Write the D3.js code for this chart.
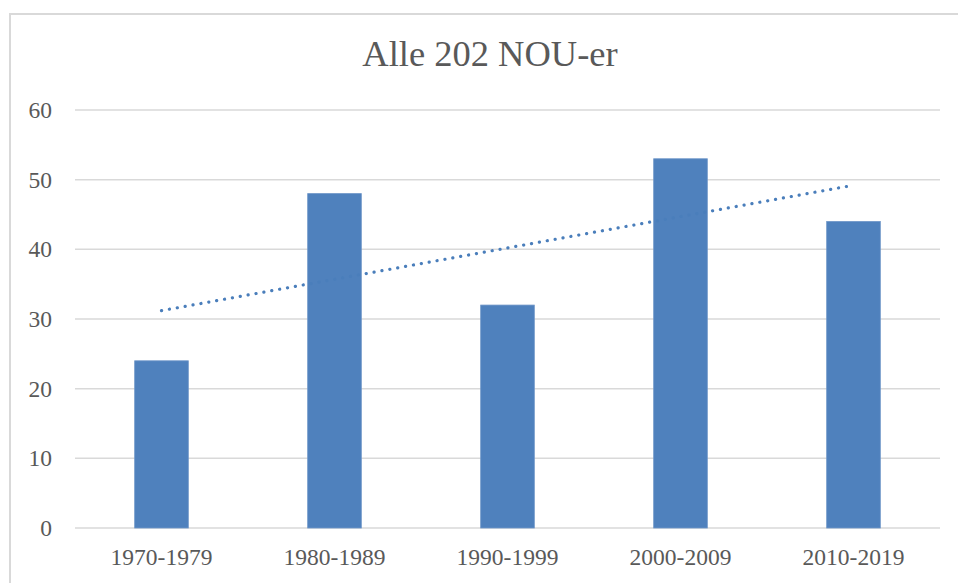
<!DOCTYPE html>
<html>
<head>
<meta charset="utf-8">
<script src="https://cdn.jsdelivr.net/npm/d3@7"></script>
<style>
	body{margin:0;background:#fff}
	text{font-family:"Liberation Serif","DejaVu Serif",serif;fill:#595959}
</style>
</head>
<body>
<div id="chart"></div>
<script>
// data
const kategorier = ['1970-1979','1980-1989','1990-1999','2000-2009','2010-2019']
const antall = [24, 48, 32, 53, 44]
const yTicks = [0, 10, 20, 30, 40, 50, 60]
const tittel = 'Alle 202 NOU-er'

const W = 958, H = 583
const margin = {top: 110, right: 18, bottom: 55, left: 75}
const width = W - margin.left - margin.right
const height = H - margin.top - margin.bottom

const svg = d3.select('#chart').append('svg')
	.attr('width', W).attr('height', H)

// outer frame
svg.append('path')
	.attr('d', 'M10,' + H + ' V14 H' + W)
	.attr('fill', 'none').attr('stroke', '#d9d9d9').attr('stroke-width', 2)

svg.append('text')
	.attr('x', 490).attr('y', 66)
	.attr('text-anchor', 'middle')
	.style('font-size', '36.5px')
	.text(tittel)

const g = svg.append('g').attr('transform', 'translate(' + margin.left + ',' + margin.top + ')')

const x = d3.scaleBand().domain(kategorier).range([0, width])
const y = d3.scaleLinear().domain([0, 60]).range([height, 0])

// gridlines
g.selectAll('line.grid').data(yTicks).enter().append('line')
	.attr('x1', 0).attr('x2', width)
	.attr('y1', d => y(d)).attr('y2', d => y(d))
	.attr('stroke', '#d9d9d9').attr('stroke-width', 1.5)

// y labels
const yAxis = g.append('g').call(d3.axisLeft(y).tickValues(yTicks).tickSize(0).tickPadding(23))
yAxis.select('.domain').remove()
yAxis.selectAll('text').style('font-size', '23.5px').attr('fill', '#595959')

// x labels
const xAxis = g.append('g').attr('transform', 'translate(0,' + height + ')')
	.call(d3.axisBottom(x).tickSize(0).tickPadding(20))
xAxis.select('.domain').remove()
xAxis.selectAll('text').style('font-size', '23.5px').attr('fill', '#595959')

// bars
const bw = x.bandwidth() * 0.31
g.selectAll('rect.bar').data(antall).enter().append('rect')
	.attr('x', (d, i) => x(kategorier[i]) + x.bandwidth() / 2 - bw / 2)
	.attr('y', d => y(d))
	.attr('width', bw)
	.attr('height', d => height - y(d))
	.attr('fill', '#4f81bd')
	.attr('stroke', '#6e96c8').attr('stroke-width', 0.8)

// linear trendline (least squares over the bar values)
const n = antall.length
const mx = (n + 1) / 2
const my = d3.mean(antall)
let sxy = 0, sxx = 0
antall.forEach((v, i) => { sxy += (i + 1 - mx) * (v - my); sxx += (i + 1 - mx) * (i + 1 - mx) })
const stig = sxy / sxx
const trend = [1, n].map(k => ({k: k, v: my + stig * (k - mx)}))

g.append('path')
	.datum(trend)
	.attr('d', d3.line()
		.x(d => x(kategorier[d.k - 1]) + x.bandwidth() / 2)
		.y(d => y(d.v)))
	.attr('fill', 'none')
	.attr('stroke', '#4a7ebb')
	.attr('stroke-width', 3.2)
	.attr('stroke-linecap', 'round')
	.attr('stroke-dasharray', '0.1 7.9')
</script>
</body>
</html>
